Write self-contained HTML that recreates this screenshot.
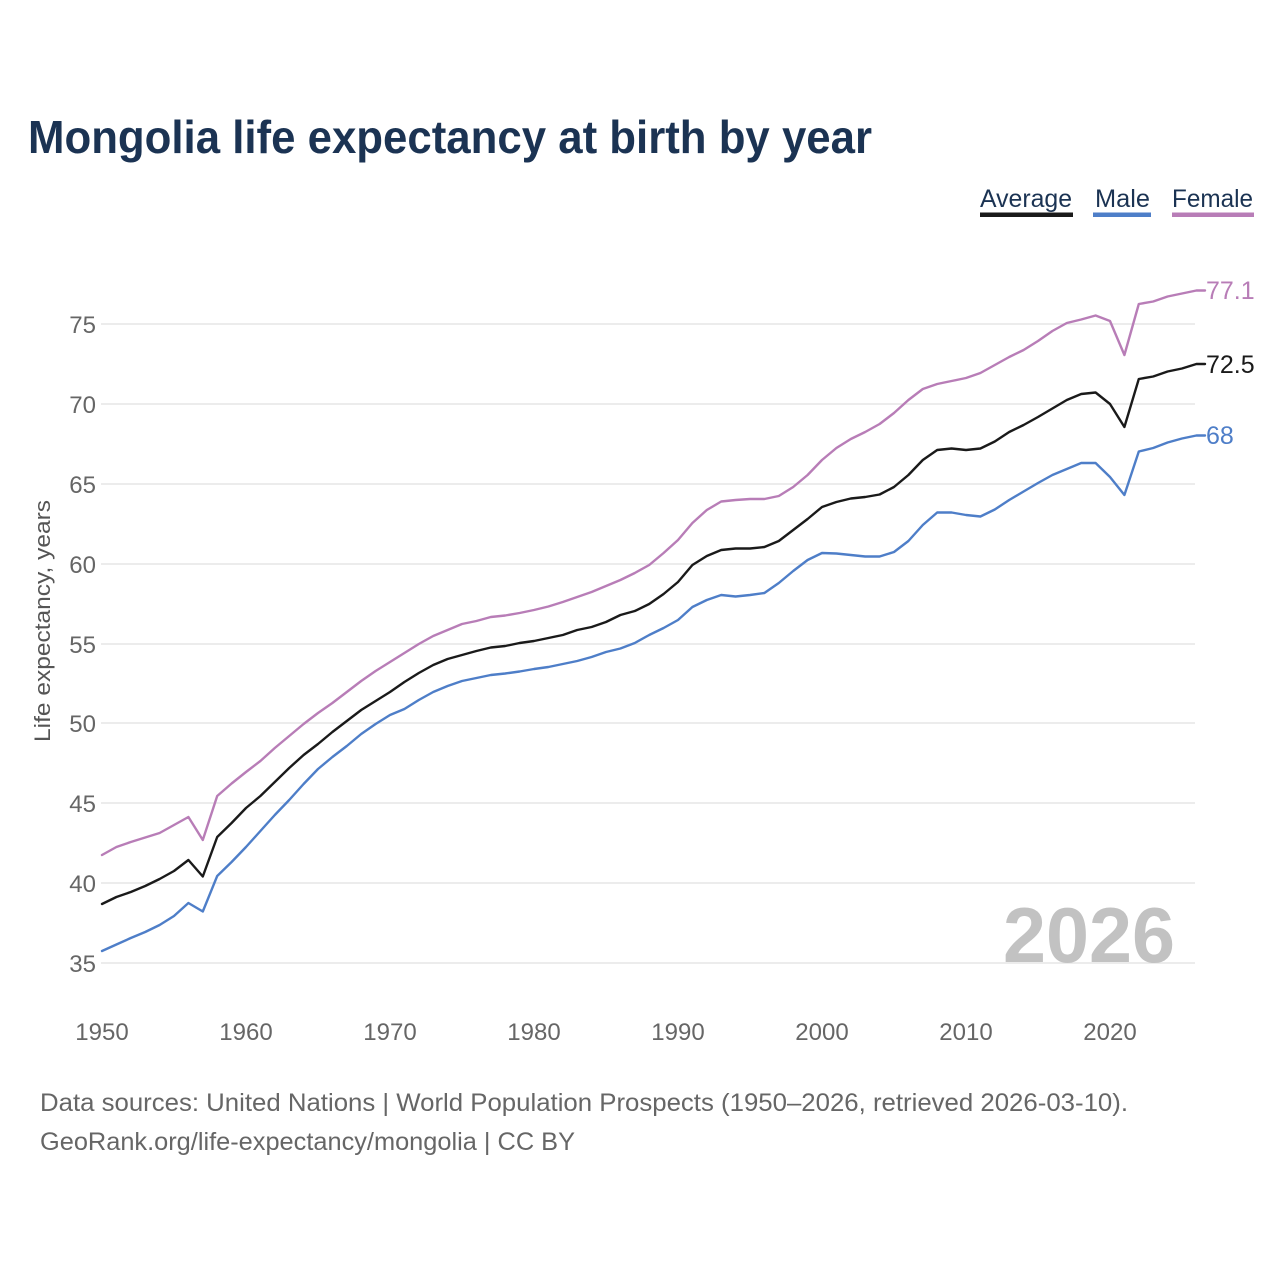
<!DOCTYPE html>
<html>
<head>
<meta charset="utf-8">
<style>
html,body{margin:0;padding:0;background:#fff;}
svg{display:block;}
text{font-family:"Liberation Sans",sans-serif;}
</style>
</head>
<body>
<svg width="1280" height="1280" viewBox="0 0 1280 1280" xmlns="http://www.w3.org/2000/svg">
<rect width="1280" height="1280" fill="#fff"/>
<text x="28" y="153" font-size="46" font-weight="bold" fill="#1b3353" textLength="844" lengthAdjust="spacingAndGlyphs">Mongolia life expectancy at birth by year</text>

<g font-size="25" fill="#1b3353">
<text x="980" y="207" textLength="92" lengthAdjust="spacingAndGlyphs">Average</text>
<text x="1095" y="207" textLength="55" lengthAdjust="spacingAndGlyphs">Male</text>
<text x="1172" y="207" textLength="81" lengthAdjust="spacingAndGlyphs">Female</text>
</g>
<rect x="980" y="212.5" width="93" height="4.5" fill="#1a1a1a"/>
<rect x="1093" y="212.5" width="58" height="4.5" fill="#4e7ec8"/>
<rect x="1172" y="212.5" width="82" height="4.5" fill="#b87db7"/>

<g stroke="#e6e6e6" stroke-width="1.5">
<line x1="101" y1="324" x2="1195" y2="324"/>
<line x1="101" y1="404" x2="1195" y2="404"/>
<line x1="101" y1="484" x2="1195" y2="484"/>
<line x1="101" y1="564" x2="1195" y2="564"/>
<line x1="101" y1="644" x2="1195" y2="644"/>
<line x1="101" y1="723" x2="1195" y2="723"/>
<line x1="101" y1="803" x2="1195" y2="803"/>
<line x1="101" y1="883" x2="1195" y2="883"/>
<line x1="101" y1="963" x2="1195" y2="963"/>
</g>

<g font-size="24" fill="#666" text-anchor="end">
<text x="96" y="333">75</text>
<text x="96" y="413">70</text>
<text x="96" y="493">65</text>
<text x="96" y="573">60</text>
<text x="96" y="653">55</text>
<text x="96" y="732">50</text>
<text x="96" y="812">45</text>
<text x="96" y="892">40</text>
<text x="96" y="972">35</text>
</g>

<text transform="translate(50,621) rotate(-90)" font-size="22" fill="#555" text-anchor="middle" textLength="242" lengthAdjust="spacingAndGlyphs">Life expectancy, years</text>

<g font-size="24" fill="#666" text-anchor="middle">
<text x="102" y="1040">1950</text>
<text x="246" y="1040">1960</text>
<text x="390" y="1040">1970</text>
<text x="534" y="1040">1980</text>
<text x="678" y="1040">1990</text>
<text x="822" y="1040">2000</text>
<text x="966" y="1040">2010</text>
<text x="1110" y="1040">2020</text>
</g>

<text x="1175" y="962" font-size="78" font-weight="bold" fill="#c2c2c2" text-anchor="end" textLength="172" lengthAdjust="spacingAndGlyphs">2026</text>

<g fill="none" stroke-width="2.4" stroke-linejoin="round" stroke-linecap="round">
<polyline stroke="#b87db7" points="102,855 116.4,847 130.8,842 145.2,837.5 159.6,833 174,825 188.4,817 202.8,840 217.2,796 231.6,783.5 246,772 260.4,761 274.8,748 289.2,736 303.6,724 318,713 332.4,703 346.8,692 361.2,681 375.6,671 390,662 404.4,653 418.8,644 433.2,636 447.6,630 462,624 476.4,621 490.8,617 505.2,615.5 519.6,613 534,610 548.4,606.5 562.8,602 577.2,597 591.6,592 606,586 620.4,580 634.8,573 649.2,565 663.6,553 678,540 692.4,523 706.8,510 721.2,501.5 735.6,500 750,499 764.4,499 778.8,496 793.2,487 807.6,475 822,460 836.4,448 850.8,439 865.2,432 879.6,424 894,413 908.4,400 922.8,389 937.2,384 951.6,381 966,378 980.4,373 994.8,365 1009.2,357 1023.6,350 1038,341 1052.4,331 1066.8,323 1081.2,319.5 1095.6,315.5 1110,321 1124.4,355 1138.8,304 1153.2,301.5 1167.6,296.5 1182,293.5 1196.4,290.5 1205,290.5"/>
<polyline stroke="#1a1a1a" points="102,904 116.4,897 130.8,892 145.2,886 159.6,879 174,871 188.4,860 202.8,876.5 217.2,837 231.6,823 246,808 260.4,796 274.8,782 289.2,768 303.6,755 318,744 332.4,732 346.8,721 361.2,710 375.6,701 390,692 404.4,682 418.8,673 433.2,665 447.6,659 462,655 476.4,651 490.8,647.5 505.2,646 519.6,643 534,641 548.4,638 562.8,635 577.2,630 591.6,627 606,622 620.4,615 634.8,611 649.2,604 663.6,594 678,582 692.4,565 706.8,556 721.2,550 735.6,548.5 750,548.5 764.4,547 778.8,541 793.2,530 807.6,519 822,507 836.4,502 850.8,498.5 865.2,497 879.6,494.5 894,487 908.4,475 922.8,460 937.2,450 951.6,448.5 966,450 980.4,448.5 994.8,441.5 1009.2,432 1023.6,425 1038,417 1052.4,408.5 1066.8,400 1081.2,394 1095.6,392.5 1110,404 1124.4,427 1138.8,379 1153.2,376.5 1167.6,371.5 1182,368.5 1196.4,364 1205,364"/>
<polyline stroke="#4e7ec8" points="102,951 116.4,944.5 130.8,938 145.2,932 159.6,925 174,916 188.4,903 202.8,911.5 217.2,876 231.6,862 246,847 260.4,831 274.8,815 289.2,800 303.6,784 318,769 332.4,757 346.8,746 361.2,734 375.6,724 390,715 404.4,709 418.8,700 433.2,692 447.6,686 462,681 476.4,678 490.8,675 505.2,673.5 519.6,671.5 534,669 548.4,667 562.8,664 577.2,661 591.6,657 606,652 620.4,648.5 634.8,643 649.2,635 663.6,628 678,620 692.4,607 706.8,600 721.2,595 735.6,596.5 750,595 764.4,593 778.8,583 793.2,571 807.6,560 822,553 836.4,553.5 850.8,555 865.2,556.5 879.6,556.5 894,552 908.4,541 922.8,525 937.2,512.5 951.6,512.5 966,515 980.4,516.5 994.8,509.5 1009.2,500 1023.6,491.5 1038,483 1052.4,475 1066.8,469 1081.2,463 1095.6,463 1110,477 1124.4,495 1138.8,451.5 1153.2,448 1167.6,442.5 1182,438.5 1196.4,435.5 1205,435.5"/>
</g>

<g font-size="25">
<text x="1206" y="299" fill="#b87db7">77.1</text>
<text x="1206" y="373" fill="#1a1a1a">72.5</text>
<text x="1206" y="444" fill="#4e7ec8">68</text>
</g>

<g font-size="25" fill="#666">
<text x="40" y="1111" textLength="1088" lengthAdjust="spacingAndGlyphs">Data sources: United Nations | World Population Prospects (1950–2026, retrieved 2026-03-10).</text>
<text x="40" y="1150" textLength="535" lengthAdjust="spacingAndGlyphs">GeoRank.org/life-expectancy/mongolia | CC BY</text>
</g>
</svg>
</body>
</html>
